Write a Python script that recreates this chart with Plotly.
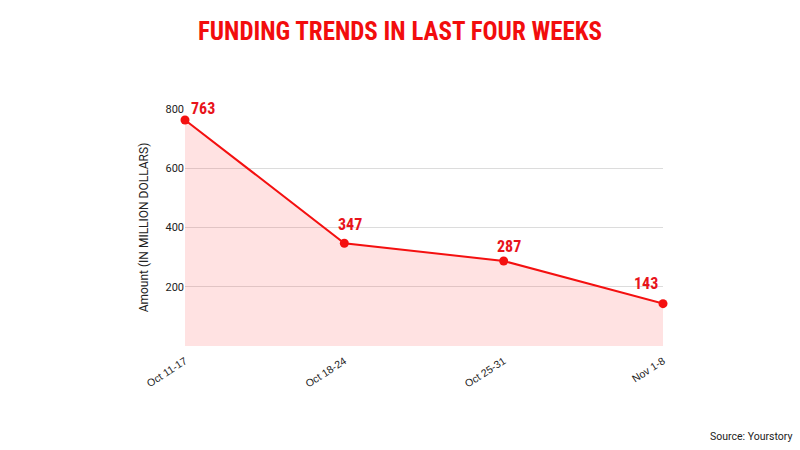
import plotly.graph_objects as go

weeks = ["Oct 11-17", "Oct 18-24", "Oct 25-31", "Nov 1-8"]
amounts = [763, 347, 287, 143]
y_ticks = [200, 400, 600, 800]

# label placement per point: (xanchor, xshift, yshift)
label_style = [("left", 4, 0), ("center", 6, 7), ("center", 5, 3), ("right", -3, 9)]

fig = go.Figure()
fig.add_trace(go.Scatter(
    x=weeks, y=amounts, mode="lines+markers",
    line=dict(color="#f41010", width=2),
    marker=dict(color="#f41010", size=9),
    fill="tozeroy", fillcolor="rgba(255,60,60,0.15)",
    cliponaxis=False, hoverinfo="x+y",
))

for wk, val, (xa, xs, ys) in zip(weeks, amounts, label_style):
    fig.add_annotation(x=wk, y=val, xref="x", yref="y", text=str(val), showarrow=False,
                       xanchor=xa, yanchor="bottom", xshift=xs, yshift=ys,
                       font=dict(family="Roboto Condensed", size=16, color="#e8141b", weight="bold"))

fig.update_layout(
    width=800, height=450,
    margin=dict(l=185, r=137, t=109, b=104),
    paper_bgcolor="white", plot_bgcolor="white",
    showlegend=False,
    title=dict(text="FUNDING TRENDS IN LAST FOUR WEEKS",
               x=0.5, xanchor="center", y=0.93, yanchor="middle",
               font=dict(family="Roboto Condensed", size=25, color="#f20d0d", weight="bold")),
    xaxis=dict(type="category", range=[0, 3], showgrid=False, zeroline=False,
               tickangle=-33, tickfont=dict(family="Liberation Sans", size=10.5, color="#222"),
               ticks="outside", ticklen=4, tickcolor="rgba(0,0,0,0)", showline=False),
    yaxis=dict(range=[0, 800], tickvals=y_ticks, showgrid=True, gridcolor="#dcdcdc",
               zeroline=False, tickfont=dict(family="Roboto", size=11, color="#222"),
               title=dict(text="Amount (IN MILLION DOLLARS)", standoff=14,
                          font=dict(family="Roboto", size=12, color="#222"))),
)
fig.add_annotation(text="Source: Yourstory", xref="paper", yref="paper",
                   x=1.0, y=0, xshift=131, yshift=-90, xanchor="right", yanchor="middle",
                   showarrow=False, font=dict(family="Roboto", size=10.5, color="#222"))

fig.write_html("out.html")
